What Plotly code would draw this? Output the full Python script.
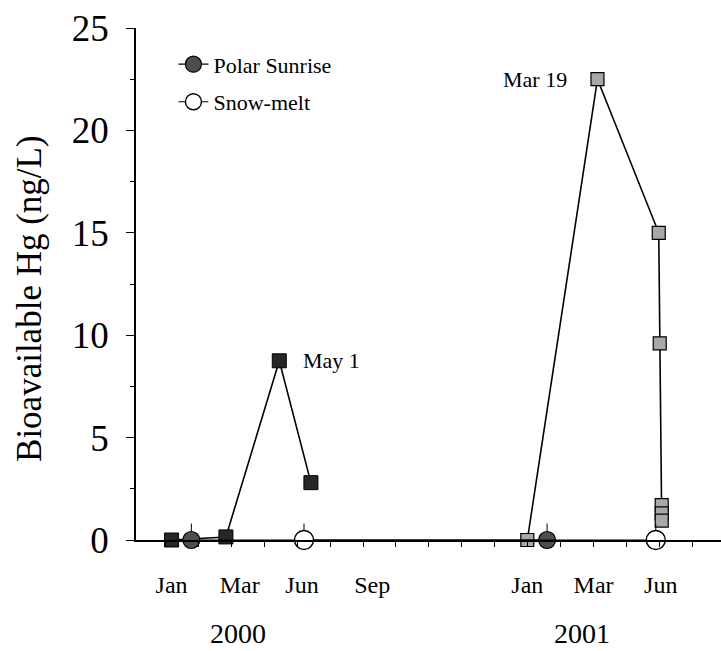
import plotly.graph_objects as go

# Bioavailable Hg measurements (ng/L)
dates_2000 = ["2000-01-13", "2000-03-08", "2000-05-01", "2000-06-02"]
hg_2000 = [0.0, 0.15, 8.75, 2.8]

dates_2001 = ["2001-01-07", "2001-03-19", "2001-05-20", "2001-05-21",
              "2001-05-23", "2001-05-23", "2001-05-23"]
hg_2001 = [0.0, 22.5, 15.0, 9.6, 1.7, 1.3, 0.95]

# Event markers
polar_sunrise_dates = ["2000-02-02", "2001-01-27"]
polar_sunrise_hg = [0.0, 0.0]
snow_melt_dates = ["2000-05-26", "2001-05-17"]
snow_melt_hg = [0.0, 0.0]

# Axis labelling
month_label_dates = ["2000-01-13", "2000-03-22", "2000-05-24", "2000-08-03",
                     "2001-01-07", "2001-03-15", "2001-05-22"]
month_labels = ["Jan", "Mar", "Jun", "Sep", "Jan", "Mar", "Jun"]
year_label_dates = ["2000-03-20", "2001-03-03"]
year_labels = ["2000", "2001"]
y_ticks = [0, 5, 10, 15, 20, 25]

# Labelled peaks
peak_labels = [("2000-05-01", 8.75, "May 1", "left", 22),
               ("2001-03-19", 22.5, "Mar 19", "right", -28)]

FONT = "Liberation Serif, Times New Roman, serif"
DAY_MS = 86400000

fig = go.Figure()

fig.add_trace(go.Scatter(
    x=dates_2000, y=hg_2000, mode="lines+markers", showlegend=False,
    line=dict(color="black", width=1.6),
    marker=dict(symbol="square", size=14, color="#262626",
                line=dict(color="black", width=1)),
    cliponaxis=False,
))
fig.add_trace(go.Scatter(
    x=dates_2001, y=hg_2001, mode="lines+markers", showlegend=False,
    line=dict(color="black", width=1.6),
    marker=dict(symbol="square", size=13, color="#a8a8a8",
                line=dict(color="black", width=1.2)),
    cliponaxis=False,
))
fig.add_trace(go.Scatter(
    x=polar_sunrise_dates, y=polar_sunrise_hg, mode="lines+markers",
    name="Polar Sunrise", legendgroup="ps",
    line=dict(color="black", width=1.2),
    marker=dict(symbol="circle", size=17, color="#4e4e4e",
                line=dict(color="black", width=1.2)),
    error_y=dict(type="constant", value=0.8, width=0, thickness=1, color="black"),
    cliponaxis=False,
))
fig.add_trace(go.Scatter(
    x=snow_melt_dates, y=snow_melt_hg, mode="lines+markers",
    name="Snow-melt", legendgroup="sm",
    line=dict(color="black", width=1.2),
    marker=dict(symbol="circle", size=19, color="white",
                line=dict(color="black", width=1.4)),
    error_y=dict(type="constant", value=0.8, width=0, thickness=1, color="black"),
    cliponaxis=False,
))

annotations = []
for d, v, txt, anchor, shift in peak_labels:
    annotations.append(dict(x=d, y=v, xref="x", yref="y", text=txt,
                            showarrow=False, xanchor=anchor, yanchor="middle",
                            xshift=shift, font=dict(family=FONT, size=22, color="black")))
for d, txt in zip(year_label_dates, year_labels):
    annotations.append(dict(x=d, y=-0.183, xref="x", yref="paper", text=txt,
                            showarrow=False, xanchor="center", yanchor="middle",
                            font=dict(family=FONT, size=28, color="black")))
annotations.append(dict(x=-0.181, y=0.471, xref="paper", yref="paper",
                        text="Bioavailable Hg (ng/L)", textangle=-90,
                        showarrow=False, xanchor="center", yanchor="middle",
                        font=dict(family=FONT, size=35, color="black")))

x_range = ["1999-12-08", "2001-07-22"]
minor_x = dict(ticks="outside", ticklen=5, tickcolor="black", tickwidth=1,
               tick0="2000-01-07", dtick=33.3 * DAY_MS)

fig.update_layout(
    width=721, height=651,
    margin=dict(l=136, r=0, t=28, b=111),
    paper_bgcolor="white", plot_bgcolor="white",
    font=dict(family=FONT, color="black"),
    annotations=annotations,
    legend=dict(x=0.064, y=0.97, xanchor="left", yanchor="top",
                bgcolor="rgba(0,0,0,0)", font=dict(family=FONT, size=22),
                traceorder="grouped", tracegroupgap=6),
    xaxis=dict(
        type="date", range=x_range, showgrid=False, zeroline=False,
        showline=True, linecolor="black", linewidth=1.6,
        tickmode="array", tickvals=month_label_dates, ticktext=month_labels,
        ticks="", ticklabelstandoff=22,
        tickfont=dict(family=FONT, size=24),
        minor=minor_x,
    ),
    xaxis2=dict(
        type="date", range=x_range, overlaying="x", anchor="y", side="bottom",
        showgrid=False, zeroline=False, showline=False, showticklabels=False,
        tickmode="array", tickvals=[], ticks="",
        minor=dict(ticks="inside", ticklen=5, tickcolor="black", tickwidth=1,
                   tick0="2000-01-07", dtick=33.3 * DAY_MS),
    ),
    yaxis=dict(
        range=[0, 25], showgrid=False, zeroline=False,
        showline=True, linecolor="black", linewidth=1.6,
        tickmode="array", tickvals=y_ticks,
        ticks="outside", ticklen=8, tickcolor="black", tickwidth=1,
        ticklabelstandoff=10,
        tickfont=dict(family=FONT, size=37),
        minor=dict(ticks="outside", ticklen=4, tickcolor="black", tickwidth=1, dtick=2.5),
    ),
    yaxis2=dict(
        range=[0, 25], overlaying="y", anchor="x", side="left",
        showgrid=False, zeroline=False, showline=False, showticklabels=False,
        tickmode="array", tickvals=y_ticks,
        ticks="inside", ticklen=8, tickcolor="black", tickwidth=1,
        minor=dict(ticks="inside", ticklen=5, tickcolor="black", tickwidth=1, dtick=2.5),
    ),
)

fig.write_html("out.html")
